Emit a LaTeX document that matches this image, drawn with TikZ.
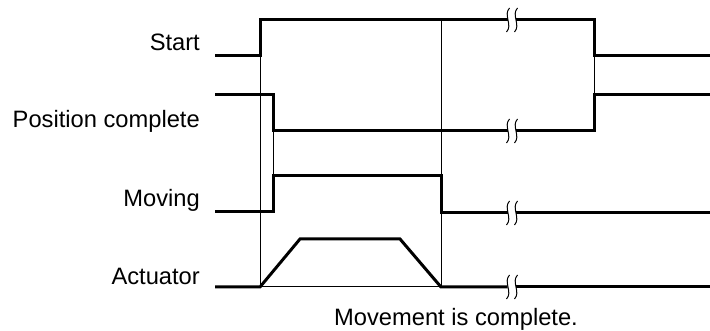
\documentclass[tikz,border=0pt]{standalone}
\usepackage{fontspec}
\setmainfont{Liberation Sans}
\begin{document}
\begin{tikzpicture}[x=1pt,y=-1pt,
  sig/.style={line width=3pt},
  guide/.style={line width=1pt},
  brk/.style={line width=1pt},
  lbl/.style={font=\fontsize{23.7}{28}\selectfont, inner sep=0pt}]
\useasboundingbox (0,0) rectangle (710,331);
% labels
\node[lbl, anchor=base east] (lstart) at (200,51) {Start};
\node[lbl, anchor=base east] (lpc) at (200,128) {Position complete};
\node[lbl, anchor=base east] (lmov) at (200,207) {Moving};
\node[lbl, anchor=base east] (lact) at (200,285) {Actuator};
\node[lbl, anchor=base] (ldone) at (456,326) {Movement is complete.};
% guide lines
\draw[guide] (260,56) -- (260,287) -- (441,287);
\draw[guide] (441,20) -- (441,287);
\draw[guide] (273,131) -- (273,176);
\draw[guide] (594,56) -- (594,95);
% signals
\draw[sig] (215,56) -- (260,56) -- (260,20) -- (507.5,20);
\draw[sig] (515.5,20) -- (594,20) -- (594,56) -- (710,56);
\draw[sig] (215,95) -- (273,95) -- (273,131) -- (507.5,131);
\draw[sig] (515.5,131) -- (594,131) -- (594,95) -- (710,95);
\draw[sig] (215,212) -- (273,212) -- (273,176) -- (441,176) -- (441,213) -- (507.5,213);
\draw[sig] (515.5,213) -- (710,213);
\draw[sig] (215,287) -- (260,287) -- (300,239) -- (400,239) -- (441,287) -- (507.5,287);
\draw[sig] (515.5,287) -- (710,287);
% break marks
\foreach \yy in {20,131,213,287} {
  \fill[white] (508,\yy-3) rectangle (515,\yy+3);
  \draw[brk] (509.5,\yy-12) .. controls (503,\yy-5) and (513,\yy+5) .. (506.5,\yy+12);
  \draw[brk] (517.5,\yy-12) .. controls (511,\yy-5) and (521,\yy+5) .. (514.5,\yy+12);
}
\end{tikzpicture}
\end{document}
